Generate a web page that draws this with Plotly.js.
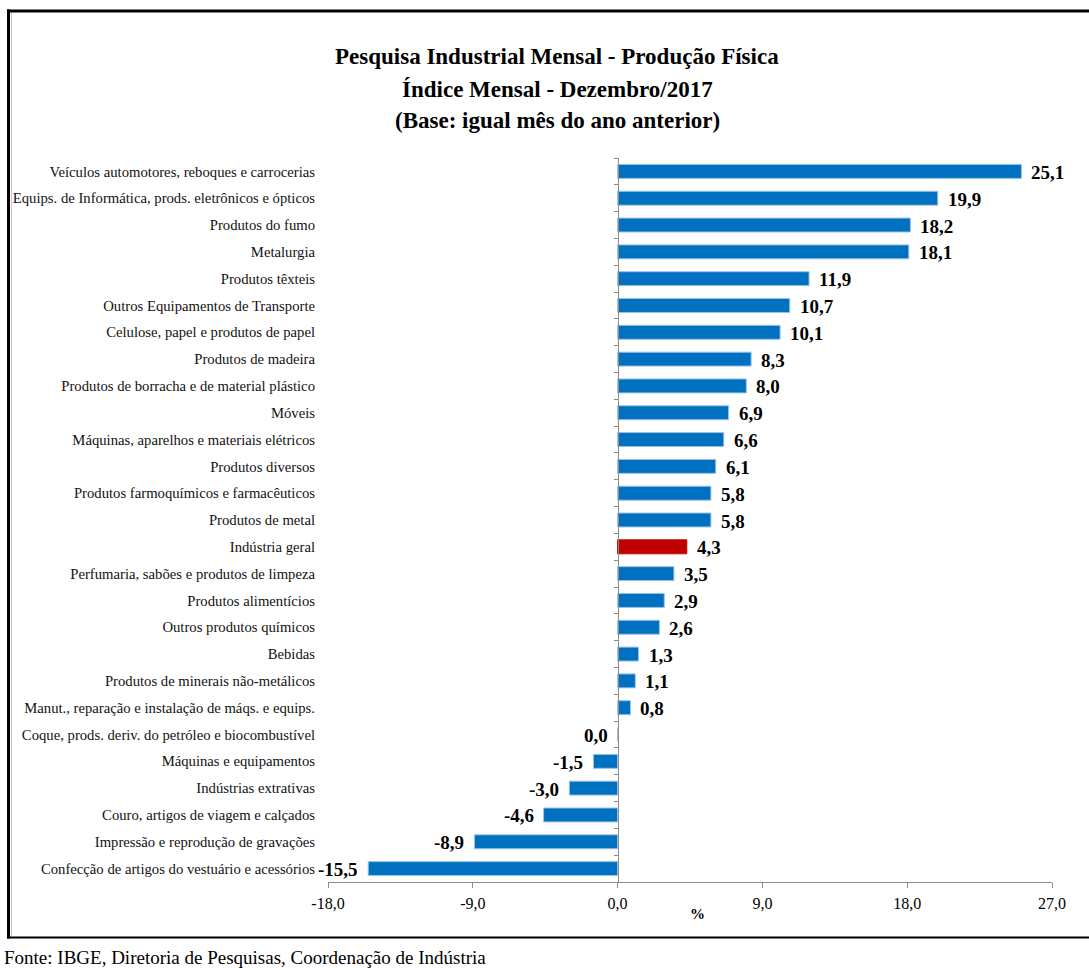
<!DOCTYPE html>
<html>
<head>
<meta charset="utf-8">
<script src="https://cdn.plot.ly/plotly-3.0.1.min.js"></script>
<style>html,body{margin:0;padding:0;background:#fff;}#chart{width:1089px;height:968px;}</style>
</head>
<body>
<div id="chart"></div>
<script>
const categories = [
  "Veículos automotores, reboques e carrocerias",
  "Equips. de Informática, prods. eletrônicos e ópticos",
  "Produtos do fumo",
  "Metalurgia",
  "Produtos têxteis",
  "Outros Equipamentos de Transporte",
  "Celulose, papel e produtos de papel",
  "Produtos de madeira",
  "Produtos de borracha e de material plástico",
  "Móveis",
  "Máquinas, aparelhos e materiais elétricos",
  "Produtos diversos",
  "Produtos farmoquímicos e farmacêuticos",
  "Produtos de metal",
  "Indústria geral",
  "Perfumaria, sabões e produtos de limpeza",
  "Produtos alimentícios",
  "Outros produtos químicos",
  "Bebidas",
  "Produtos de minerais não-metálicos",
  "Manut., reparação e instalação de máqs. e equips.",
  "Coque, prods. deriv. do petróleo e biocombustível",
  "Máquinas e equipamentos",
  "Indústrias extrativas",
  "Couro, artigos de viagem e calçados",
  "Impressão e reprodução de gravações",
  "Confecção de artigos do vestuário e acessórios"
];
const values = [25.1, 19.9, 18.2, 18.1, 11.9, 10.7, 10.1, 8.3, 8.0, 6.9, 6.6, 6.1, 5.8, 5.8, 4.3, 3.5, 2.9, 2.6, 1.3, 1.1, 0.8, 0.0, -1.5, -3.0, -4.6, -8.9, -15.5];
const highlightCategory = "Indústria geral";
const xTickValues = [-18, -9, 0, 9, 18, 27];
const titleLines = [
  "Pesquisa Industrial Mensal - Produção Física",
  "Índice Mensal - Dezembro/2017",
  "(Base: igual mês do ano anterior)"
];
const sourceText = "Fonte: IBGE, Diretoria de Pesquisas, Coordenação de Indústria";
const xAxisTitle = "%";

const W = 1089, H = 968;
const M = {l: 328, r: 37, t: 158, b: 86};
const px2x = px => (px - M.l) / (W - M.l - M.r);
const py2y = py => (H - M.b - py) / (H - M.t - M.b);
const xRange = [xTickValues[0], xTickValues[xTickValues.length - 1]];
const yRange = [categories.length - 0.5, -0.5];
const fmt = v => v.toFixed(1).replace('.', ',');
const serif = "Liberation Serif, Times New Roman, serif";
const BLUE = "#0070C0", RED = "#C00000";

const barColors = categories.map(c => c === highlightCategory ? RED : BLUE);
const lineColors = categories.map(c => c === highlightCategory ? RED : "#9DC3E6");

const traces = [
  {
    type: 'bar', orientation: 'h',
    x: values, y: categories,
    marker: {color: barColors, line: {color: lineColors, width: 1}},
    hoverinfo: 'skip', showlegend: false
  },
  {
    type: 'scatter', mode: 'markers',
    x: values, y: categories, yaxis: 'y2',
    marker: {opacity: 0, size: 1},
    hoverinfo: 'skip', showlegend: false
  }
];

const annotations = [];
values.forEach((v, i) => {
  annotations.push({
    x: v, y: categories[i], xref: 'x', yref: 'y',
    text: fmt(v), showarrow: false,
    xanchor: v > 0 ? 'left' : 'right',
    xshift: v > 0 ? 8 : -8, yshift: -1,
    font: {family: serif, size: 19, color: '#000', weight: 'bold'}
  });
});
const titleY = [57, 90, 121];
titleLines.forEach((t, i) => {
  annotations.push({
    x: px2x(557), y: py2y(titleY[i]), xref: 'paper', yref: 'paper',
    xanchor: 'center', yanchor: 'middle', showarrow: false,
    text: '<b>' + t + '</b>',
    font: {family: serif, size: 23, color: '#000'}
  });
});
annotations.push({
  x: px2x(2), y: py2y(957), xref: 'paper', yref: 'paper',
  xanchor: 'left', yanchor: 'middle', showarrow: false,
  text: sourceText, font: {family: serif, size: 19, color: '#000'}
});
annotations.push({
  x: px2x(697), y: py2y(914), xref: 'paper', yref: 'paper',
  xanchor: 'center', yanchor: 'middle', showarrow: false,
  text: '<b>' + xAxisTitle + '</b>', font: {family: serif, size: 15, color: '#000'}
});

const shapes = [
  {type: 'line', xref: 'paper', yref: 'paper', x0: px2x(8.5), x1: px2x(8.5), y0: py2y(9.5), y1: py2y(938.5), line: {color: '#000', width: 3}},
  {type: 'line', xref: 'paper', yref: 'paper', x0: px2x(11.5), x1: px2x(11.5), y0: py2y(12), y1: py2y(936), line: {color: '#C8C8C8', width: 1}},
  {type: 'line', xref: 'paper', yref: 'paper', x0: px2x(7), x1: px2x(1095), y0: py2y(11), y1: py2y(11), line: {color: '#000', width: 3}},
  {type: 'line', xref: 'paper', yref: 'paper', x0: px2x(7), x1: px2x(1095), y0: py2y(937.5), y1: py2y(937.5), line: {color: '#000', width: 2}}
];

const layout = {
  width: W, height: H,
  margin: M,
  paper_bgcolor: '#fff', plot_bgcolor: '#fff',
  showlegend: false,
  bargap: 0.48,
  font: {family: serif, color: '#000'},
  xaxis: {
    range: xRange, tickvals: xTickValues,
    ticktext: xTickValues.map(fmt),
    showgrid: false, zeroline: false,
    showline: true, linecolor: '#8C8C8C', linewidth: 1,
    ticks: 'outside', ticklen: 5, tickcolor: '#8C8C8C', tickwidth: 1,
    tickfont: {family: serif, size: 16, color: '#000'},
    ticklabelstandoff: 2,
    fixedrange: true
  },
  yaxis: {
    type: 'category', categoryorder: 'array', categoryarray: categories,
    range: yRange,
    showgrid: false, zeroline: false, showline: false,
    ticks: '', ticklabelstandoff: 12,
    tickfont: {family: serif, size: 14.7, color: '#111'},
    fixedrange: true
  },
  yaxis2: {
    type: 'category', categoryorder: 'array', categoryarray: categories,
    range: yRange, overlaying: 'y', anchor: 'free', side: 'left',
    position: (0 - xRange[0]) / (xRange[1] - xRange[0]),
    showgrid: false, zeroline: false,
    showline: true, linecolor: '#8C8C8C', linewidth: 1,
    ticks: 'outside', tickson: 'boundaries', ticklen: 4, tickcolor: '#8C8C8C',
    showticklabels: false, fixedrange: true
  },
  annotations: annotations,
  shapes: shapes
};

Plotly.newPlot('chart', traces, layout, {displayModeBar: false, staticPlot: true});
</script>
</body>
</html>
